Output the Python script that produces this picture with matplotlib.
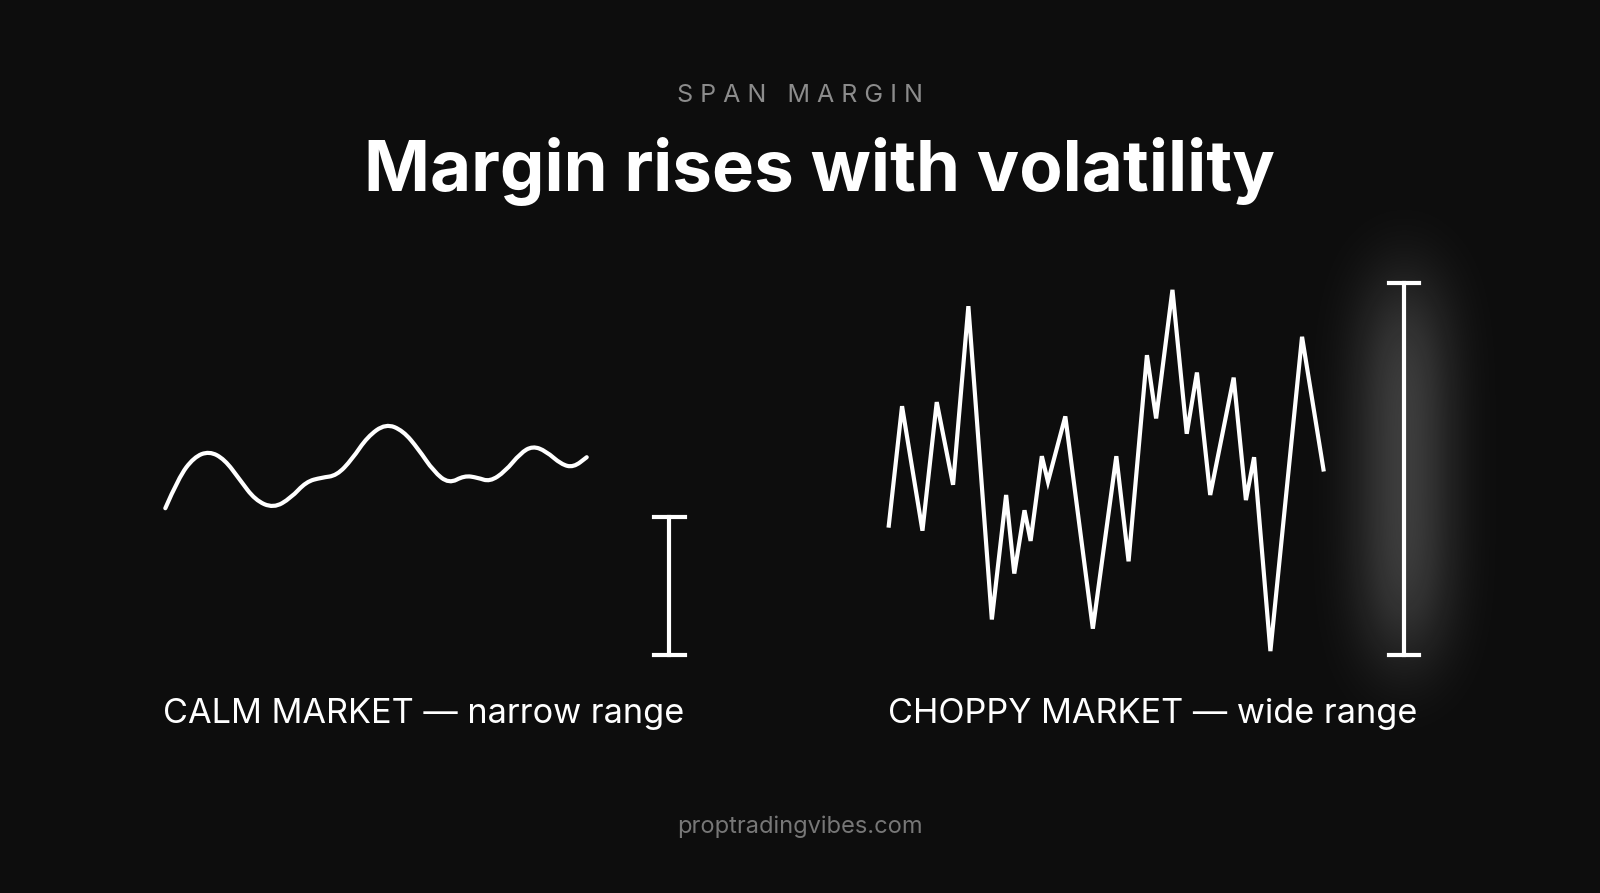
import numpy as np
import matplotlib.pyplot as plt
from matplotlib.path import Path
from matplotlib.patches import PathPatch

# layout space follows the reference (1568 x 875), y downward
calm_x = [162, 175, 190, 205, 220, 235, 250, 268, 285, 300, 315, 330, 345, 360, 378,
          395, 410, 425, 440, 455, 468, 480, 495, 510, 522, 535, 550, 562, 575]
calm_y = [498, 468, 448, 442, 450, 470, 490, 498, 488, 472, 468, 466, 450, 428, 415,
          422, 440, 462, 474, 466, 468, 472, 462, 444, 437, 442, 455, 458, 448]

choppy_x = [871, 884, 904, 918, 934, 949, 972, 986, 994, 1004, 1010, 1021, 1027, 1044, 1071,
            1094, 1106, 1124, 1133, 1149, 1163, 1173, 1186, 1209, 1221, 1229, 1245, 1276, 1297]
choppy_y = [515, 398, 520, 394, 475, 300, 607, 485, 562, 500, 530, 447, 472, 408, 616,
            447, 550, 348, 410, 284, 425, 365, 485, 370, 490, 448, 638, 330, 460]

calm_range = (656, 507, 642)
choppy_range = (1376, 277, 642)

bg = '#0d0d0d'
fig = plt.figure(figsize=(16, 8.93), dpi=100, facecolor=bg)
ax = fig.add_axes([0, 0, 1, 1])
ax.set_facecolor(bg)
ax.set_xlim(0, 1568)
ax.set_ylim(875, 0)
ax.axis('off')

# soft glow behind the wide range bar
gx = np.linspace(1260, 1500, 240)
gy = np.linspace(150, 780, 400)
GX, GY = np.meshgrid(gx, gy)
glow = np.exp(-((GX - 1376) / 50) ** 2) * np.exp(-((GY - 460) / 190) ** 4)
rgba = np.zeros(glow.shape + (4,))
rgba[..., :3] = 1
rgba[..., 3] = 0.2 * glow
ax.imshow(rgba, extent=(1260, 1500, 780, 150), aspect='auto', zorder=1)

# calm line drawn as quadratic bezier through midpoints (smooth)
pts = list(zip(calm_x, calm_y))
verts = [pts[0]]
codes = [Path.MOVETO]
for i in range(1, len(pts) - 1):
    mid = ((pts[i][0] + pts[i + 1][0]) / 2, (pts[i][1] + pts[i + 1][1]) / 2)
    verts += [pts[i], mid]
    codes += [Path.CURVE3, Path.CURVE3]
verts.append(pts[-1])
codes.append(Path.LINETO)
ax.add_patch(PathPatch(Path(verts, codes), fill=False, edgecolor='white', lw=3,
                       capstyle='round', joinstyle='round', zorder=3))

ax.plot(choppy_x, choppy_y, color='white', lw=3, solid_joinstyle='miter', zorder=3)

for x, y0, y1 in [calm_range, choppy_range]:
    ax.plot([x, x], [y0, y1], color='white', lw=3, zorder=3)
    ax.plot([x - 15, x + 15], [y0, y0], color='white', lw=3, zorder=3)
    ax.plot([x - 15, x + 15], [y1, y1], color='white', lw=3, zorder=3)

ax.text(784, 94, 'S P A N   M A R G I N', color='#8c8c8c', fontsize=18, family='Inter',
        ha='center', va='center')
ax.text(803, 168, 'Margin rises with volatility', color='white', fontsize=51,
        family='Inter', weight='bold', ha='center', va='center')
ax.text(160, 700, 'CALM MARKET — narrow range', color='white', fontsize=24.7,
        family='Inter', ha='left', va='center')
ax.text(870, 700, 'CHOPPY MARKET — wide range', color='white', fontsize=24.7,
        family='Inter', ha='left', va='center')
ax.text(784, 810, 'proptradingvibes.com', color='#777777', fontsize=17,
        family='Inter', ha='center', va='center')

fig.savefig('out.png', dpi=100, facecolor=bg)
